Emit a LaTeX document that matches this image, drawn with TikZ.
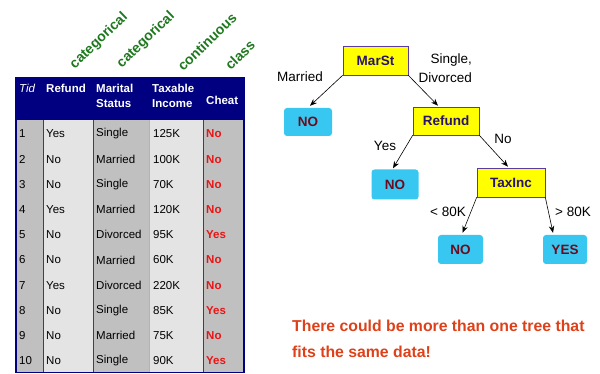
\documentclass[tikz,border=0pt]{standalone}
\usepackage{fontspec}
\setmainfont{Liberation Sans}
\usetikzlibrary{arrows.meta,calc}
\definecolor{navy}{RGB}{0,0,128}
\definecolor{colgray}{RGB}{192,192,192}
\definecolor{collight}{RGB}{228,228,228}
\definecolor{sepblue}{RGB}{60,50,160}
\definecolor{cheatred}{RGB}{235,20,20}
\definecolor{labgreen}{RGB}{30,120,30}
\definecolor{boxyellow}{RGB}{255,255,0}
\definecolor{boxedge}{RGB}{90,60,160}
\definecolor{boxtext}{RGB}{40,20,110}
\definecolor{leafcyan}{RGB}{56,199,240}
\definecolor{leaftext}{RGB}{110,10,30}
\definecolor{noteorange}{RGB}{222,65,25}
\tikzset{
  hdr/.style={anchor=west, inner sep=0pt, text=white, font=\fontsize{11.5}{15}\selectfont\bfseries, align=left},
  cell/.style={anchor=west, inner sep=0pt, font=\fontsize{11.5}{14}\selectfont},
  cheatcell/.style={cell, text=cheatred, font=\fontsize{11.5}{14}\selectfont\bfseries},
  typelab/.style={rotate=44, inner sep=0pt, text=labgreen, font=\fontsize{14}{16}\selectfont\bfseries},
  testbox/.style={draw=boxedge, line width=0.6pt, fill=boxyellow, text=boxtext, inner sep=0pt, font=\fontsize{13.5}{16}\selectfont\bfseries},
  leafbox/.style={fill=leafcyan, rounded corners=3pt, text=leaftext, inner sep=0pt, font=\fontsize{13.5}{16}\selectfont\bfseries},
  edgelab/.style={inner sep=0pt, font=\fontsize{13.5}{19}\selectfont},
  treearrow/.style={-{Stealth[length=7pt,width=5.5pt]}, line width=0.6pt, black}
}
\begin{document}
\begin{tikzpicture}[x=1pt,y=-1pt]
\useasboundingbox (0,0) rectangle (600,374);
% table background
\fill[navy] (16,78) rectangle (244,120);
\fill[colgray] (16,120) rectangle (43,372.5);
\fill[collight] (43,120) rectangle (93,372.5);
\fill[colgray] (93,120) rectangle (149,372.5);
\fill[collight] (149,120) rectangle (203,372.5);
\fill[colgray] (203,120) rectangle (244,372.5);
\draw[sepblue, line width=1pt] (43,120) -- (43,372.5);
\draw[sepblue, line width=1pt] (93,120) -- (93,372.5);
\draw[sepblue!40, line width=0.6pt] (149,120) -- (149,372.5);
\draw[sepblue, line width=1pt] (203,120) -- (203,372.5);
\draw[navy, line width=1.2pt] (16,78) rectangle (244,372.5);
% header
\node[hdr, font=\fontsize{11.5}{15}\selectfont\itshape] (hTid) at (19,88) {Tid};
\node[hdr] (hRefund) at (46,88) {Refund};
\node[hdr] (hMarital) at (96,95.5) {Marital\\Status};
\node[hdr] (hTaxable) at (152,95.5) {Taxable\\Income};
\node[hdr] (hCheat) at (206,100) {Cheat};
% rows
\foreach \t/\r/\m/\x/\c [count=\n] in {1/Yes/Single/125K/No, 2/No/Married/100K/No, 3/No/Single/70K/No, 4/Yes/Married/120K/No, 5/No/Divorced/95K/Yes, 6/No/Married/60K/No, 7/Yes/Divorced/220K/No, 8/No/Single/85K/Yes, 9/No/Married/75K/No, 10/No/Single/90K/Yes}{
  \pgfmathsetmacro{\yy}{134+(\n-1)*25.2}
  \node[cell] (tid\n) at (19,\yy) {\t};
  \node[cell] (ref\n) at (46,\yy) {\r};
  \node[cell] (mar\n) at (96,\yy) {\m};
  \node[cell] (tax\n) at (153,\yy) {\x};
  \node[cheatcell] (cht\n) at (206,\yy) {\c};
}
% attribute type labels
\node[typelab] (lab1) at (99,41) {categorical};
\node[typelab] (lab2) at (146,40) {categorical};
\node[typelab] (lab3) at (207,42) {continuous};
\node[typelab] (lab4) at (240,55) {class};
% tree
\node[testbox, minimum width=65pt, minimum height=29pt] (marst) at (375.5,60.5) {MarSt};
\node[leafbox, minimum width=48pt, minimum height=28pt] (no1) at (308,122) {NO};
\node[testbox, minimum width=66pt, minimum height=28pt] (refund) at (446,121) {Refund};
\node[leafbox, minimum width=47pt, minimum height=30pt] (no2) at (395,184.5) {NO};
\node[testbox, minimum width=68pt, minimum height=29pt] (taxinc) at (511,182.5) {TaxInc};
\node[leafbox, minimum width=45pt, minimum height=29pt] (no3) at (460.5,249.5) {NO};
\node[leafbox, minimum width=44pt, minimum height=29pt] (yes1) at (565,249.5) {YES};
\draw[treearrow] (marst.south west) -- ($(no1.north)+(2,-2)$);
\draw[treearrow] (marst.south east) -- ($(refund.north)+(-8,-1)$);
\draw[treearrow] (refund.south west) -- ($(no2.north)+(-2,-1)$);
\draw[treearrow] (refund.south east) -- ($(taxinc.north)+(-3,-1)$);
\draw[treearrow] (taxinc.south west) -- ($(no3.north)+(2,-2)$);
\draw[treearrow] (taxinc.south east) -- ($(yes1.north)+(-12,-2)$);
% edge labels
\node[edgelab] (lMarried) at (300,77) {Married};
\node[edgelab, anchor=east, align=right] (lSingle) at (472,68.5) {Single,\\Divorced};
\node[edgelab] (lYes) at (385,146) {Yes};
\node[edgelab] (lNo) at (503,139) {No};
\node[edgelab] (lLess) at (448,212) {< 80K};
\node[edgelab] (lMore) at (573,212) {> 80K};
% note
\node[anchor=base west, inner sep=0pt, align=left, text=noteorange, font=\fontsize{15.8}{26}\selectfont\bfseries] (note) at (292,357) {There could be more than one tree that\\fits the same data!};
\end{tikzpicture}
\end{document}
